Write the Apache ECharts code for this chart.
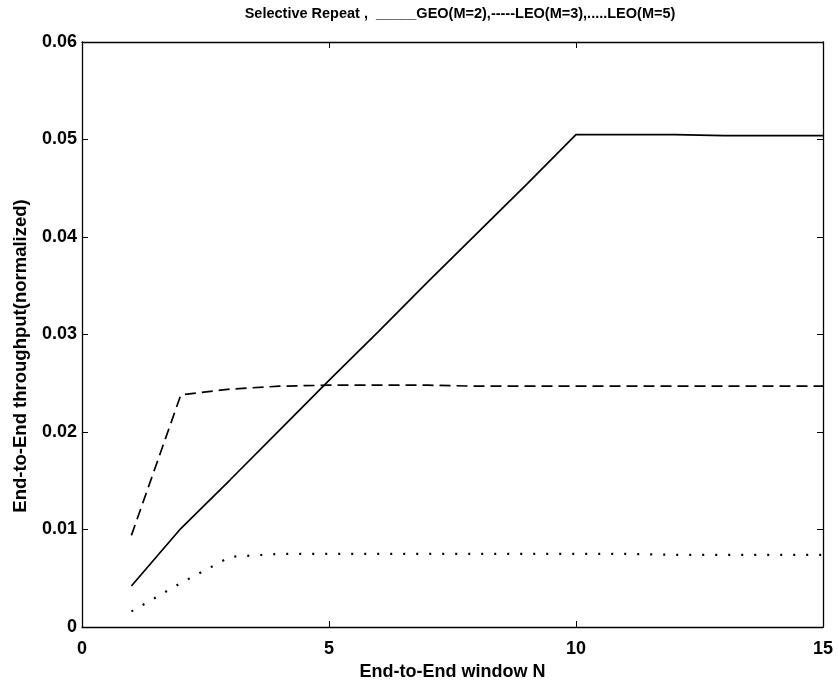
<!DOCTYPE html>
<html><head><meta charset="utf-8">
<script src="https://cdn.jsdelivr.net/npm/echarts@6/dist/echarts.min.js"></script>
<style>html,body{margin:0;padding:0;background:#fff}#c{width:838px;height:687px}</style>
</head><body><div id="c"></div>
<script>
const N = [1,2,3,4,5,6,7,8,9,10,11,12,13,14,15];
const geo2 = [0.0042,0.0101,0.0151,0.0202,0.0253,0.0303,0.0354,0.0404,0.0454,0.0505,0.0505,0.0505,0.0504,0.0504,0.0504];
const leo3 = [0.0094,0.0238,0.0244,0.0247,0.0248,0.0248,0.0248,0.0247,0.0247,0.0247,0.0247,0.0247,0.0247,0.0247,0.0247];
const leo5 = [0.0016,0.0045,0.0072,0.0075,0.0075,0.0075,0.0075,0.0075,0.0075,0.0075,0.0075,0.0074,0.0074,0.0074,0.0074];
const xTicks = [0,5,10,15];
const yTicks = [0,0.01,0.02,0.03,0.04,0.05,0.06];
const titleText = 'Selective Repeat ,  _____GEO(M=2),-----LEO(M=3),.....LEO(M=5)';
const xName = 'End-to-End window N';
const yName = 'End-to-End throughput(normalized)';

const pair = a => N.map((n,i)=>[n,a[i]]);
const ff = 'Liberation Sans, Arial, sans-serif';
const font = {fontFamily:ff, fontWeight:'bold', color:'#000'};
const ax = {show:true,onZero:false,lineStyle:{color:'#000',width:1.3}};
const tick = {show:true,inside:true,length:6,lineStyle:{color:'#000',width:1}};
const chart = echarts.init(document.getElementById('c'));
chart.setOption({
  animation:false,
  title:{text:titleText,left:455,textAlign:'center',top:1,textStyle:Object.assign({fontSize:14.5},font)},
  grid:{left:82,right:15,top:42,bottom:60},
  xAxis:[{type:'value',min:0,max:15,interval:5,position:'bottom',
    axisLine:ax,axisTick:tick,splitLine:{show:false},
    axisLabel:Object.assign({fontSize:18,margin:13,formatter:v=>xTicks.includes(v)?String(v):''},font),
    name:xName,nameLocation:'middle',nameGap:35,nameTextStyle:Object.assign({fontSize:18},font)},
   {type:'value',min:0,max:15,interval:5,position:'top',axisLine:ax,axisTick:tick,axisLabel:{show:false},splitLine:{show:false}}],
  yAxis:[{type:'value',min:0,max:0.06,interval:0.01,position:'left',
    axisLine:ax,axisTick:tick,splitLine:{show:false},
    axisLabel:Object.assign({fontSize:18,margin:5,formatter:v=>{const t=yTicks.find(y=>Math.abs(y-v)<1e-9);return t===0?'0':t.toFixed(2);}},font)},
   {type:'value',min:0,max:0.06,interval:0.01,position:'right',axisLine:ax,axisTick:tick,axisLabel:{show:false},splitLine:{show:false}}],
  graphic:[{type:'text',x:21,y:356,rotation:Math.PI/2,style:{text:yName,font:'bold 18.5px '+ff,fill:'#000',textAlign:'center',textVerticalAlign:'middle'}}],
  series:[
    {type:'line',data:pair(geo2),symbol:'none',lineStyle:{color:'#000',width:1.7}},
    {type:'line',data:pair(leo3),symbol:'none',lineStyle:{color:'#000',width:1.7,type:[11,6]}},
    {type:'line',data:pair(leo5),symbol:'none',lineStyle:{color:'#000',width:2.2,type:[2,11]}}
  ]
});
</script></body></html>
